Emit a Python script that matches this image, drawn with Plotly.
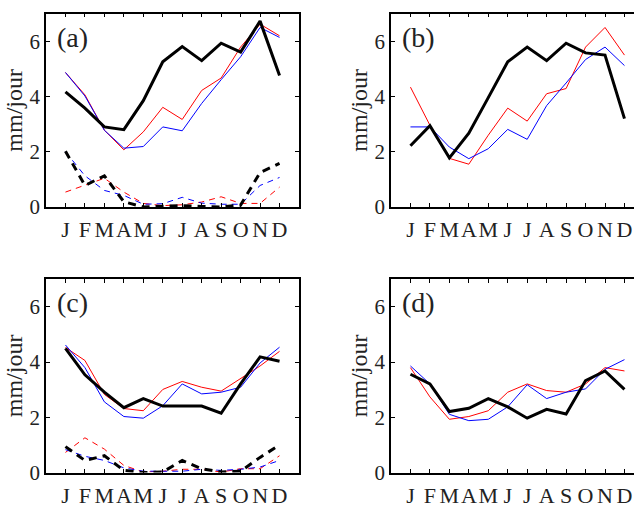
import plotly.graph_objects as go

months = list(range(1, 13))
month_labels = ["J", "F", "M", "A", "M", "J", "J", "A", "S", "O", "N", "D"]

# Panel (a)
a_black = [4.17, 3.58, 2.90, 2.80, 3.85, 5.26, 5.81, 5.30, 5.93, 5.61, 6.73, 4.76]
a_red = [4.87, 4.06, 2.78, 2.07, 2.72, 3.61, 3.17, 4.22, 4.67, 5.79, 6.62, 6.20]
a_blue = [4.87, 4.02, 2.78, 2.13, 2.19, 2.90, 2.76, 3.75, 4.61, 5.44, 6.50, 6.14]
a_black_d = [2.02, 0.78, 1.13, 0.19, 0.00, 0.02, 0.05, 0.02, 0.00, 0.07, 1.25, 1.58]
a_red_d = [0.54, 0.80, 1.04, 0.54, 0.13, 0.05, 0.08, 0.18, 0.37, 0.13, 0.13, 0.72]
a_blue_d = [2.00, 1.13, 0.60, 0.42, 0.10, 0.12, 0.35, 0.14, 0.10, 0.10, 0.78, 1.07]

# Panel (b)
b_black = [2.22, 2.94, 1.78, 2.67, 3.96, 5.26, 5.79, 5.30, 5.93, 5.58, 5.50, 3.20]
b_red = [4.34, 2.96, 1.76, 1.55, 2.60, 3.58, 3.11, 4.10, 4.29, 5.79, 6.50, 5.50]
b_blue = [2.90, 2.90, 2.17, 1.75, 2.11, 2.81, 2.45, 3.67, 4.49, 5.34, 5.79, 5.12]

# Panel (c)
c_black = [4.50, 3.54, 2.91, 2.35, 2.68, 2.41, 2.41, 2.41, 2.15, 3.21, 4.19, 4.03]
c_red = [4.53, 4.06, 2.83, 2.32, 2.24, 3.01, 3.30, 3.09, 2.95, 3.42, 3.86, 4.39]
c_blue = [4.62, 3.80, 2.56, 2.03, 1.97, 2.42, 3.21, 2.85, 2.91, 3.09, 3.97, 4.54]
c_black_d = [0.94, 0.44, 0.61, 0.08, 0.00, 0.02, 0.44, 0.14, 0.02, 0.05, 0.55, 1.00]
c_red_d = [0.73, 1.26, 0.85, 0.26, 0.02, 0.05, 0.12, 0.12, 0.02, 0.14, 0.14, 0.61]
c_blue_d = [0.83, 0.59, 0.44, 0.17, 0.05, 0.05, 0.05, 0.12, 0.08, 0.12, 0.20, 0.44]

# Panel (d)
d_black = [3.56, 3.21, 2.21, 2.33, 2.68, 2.38, 1.97, 2.29, 2.12, 3.33, 3.68, 3.01]
d_red = [3.80, 2.74, 1.93, 2.03, 2.24, 2.91, 3.21, 2.97, 2.91, 3.21, 3.80, 3.68]
d_blue = [3.86, 3.21, 2.11, 1.88, 1.93, 2.38, 3.18, 2.68, 2.91, 3.03, 3.74, 4.09]

panel_labels = ["(a)", "(b)", "(c)", "(d)"]
y_title = "mm/jour"

FONT = "Liberation Serif"
W, H = 634, 509

panels = [
    dict(solid=[a_red, a_blue, a_black], dashed=[a_red_d, a_blue_d, a_black_d]),
    dict(solid=[b_red, b_blue, b_black], dashed=[]),
    dict(solid=[c_red, c_blue, c_black], dashed=[c_red_d, c_blue_d, c_black_d]),
    dict(solid=[d_red, d_blue, d_black], dashed=[]),
]

# pixel geometry of panels (left, right, top, bottom) and x range
geom = [
    (46, 299, 14, 212, [0, 13]),
    (391, 634, 14, 212, [0, 12.49]),
    (46, 299, 286, 484, [0, 13]),
    (391, 634, 286, 484, [0, 12.49]),
]

colors = ["#ff0000", "#0000ff", "#000000"]

fig = go.Figure()
layout = dict(
    width=W, height=H,
    margin=dict(l=0, r=0, t=0, b=0),
    paper_bgcolor="white", plot_bgcolor="white",
    showlegend=False,
    font=dict(family=FONT, color="#222222", size=20),
    annotations=[],
)

for i, (p, g) in enumerate(zip(panels, geom)):
    n = i + 1
    xa = "x" if n == 1 else f"x{n}"
    ya = "y" if n == 1 else f"y{n}"
    for series, col in zip(p["dashed"], colors):
        fig.add_trace(go.Scatter(
            x=months, y=series, mode="lines", xaxis=xa, yaxis=ya,
            line=dict(color=col, width=3 if col == "#000000" else 1,
                      dash="6px,5px" if col != "#000000" else "8px,6px")))
    for series, col in zip(p["solid"], colors):
        fig.add_trace(go.Scatter(
            x=months, y=series, mode="lines", xaxis=xa, yaxis=ya,
            line=dict(color=col, width=3 if col == "#000000" else 1)))
    l, r, t, b, xr = g
    xkey = "xaxis" if n == 1 else f"xaxis{n}"
    ykey = "yaxis" if n == 1 else f"yaxis{n}"
    clipped = n in (2, 4)
    layout[xkey] = dict(
        domain=[l / W, r / W], range=xr, anchor=ya,
        tickvals=months, ticktext=month_labels, tickangle=0,
        ticks="inside", ticklen=4, tickcolor="#000", tickwidth=1,
        showline=True, linecolor="#000", linewidth=1.5, mirror="ticks",
        showgrid=False, zeroline=False,
        tickfont=dict(family=FONT, size=22, color="#222"),
        ticklabelstandoff=2,
    )
    layout[ykey] = dict(
        domain=[(H - b) / H, (H - t) / H], range=[0, 7], anchor=xa,
        tickvals=[0, 2, 4, 6],
        ticks="inside", ticklen=4, tickcolor="#000", tickwidth=1,
        showline=True, linecolor="#000", linewidth=1.5,
        mirror=False if clipped else "ticks",
        showgrid=False, zeroline=False,
        tickfont=dict(family=FONT, size=21, color="#222"),
        title=dict(text=y_title, font=dict(family=FONT, size=24, color="#222"), standoff=0),
    )
    layout["annotations"].append(dict(
        text=panel_labels[i], x=0.45, y=6.15, xref=xa, yref=ya,
        xanchor="left", yanchor="middle", showarrow=False,
        font=dict(family=FONT, size=28, color="#222")))

fig.update_layout(**layout)
fig.write_html(
    "out.html",
    config={"displayModeBar": False},
    post_script="document.body.style.margin='0';document.body.style.overflow='hidden';",
)
